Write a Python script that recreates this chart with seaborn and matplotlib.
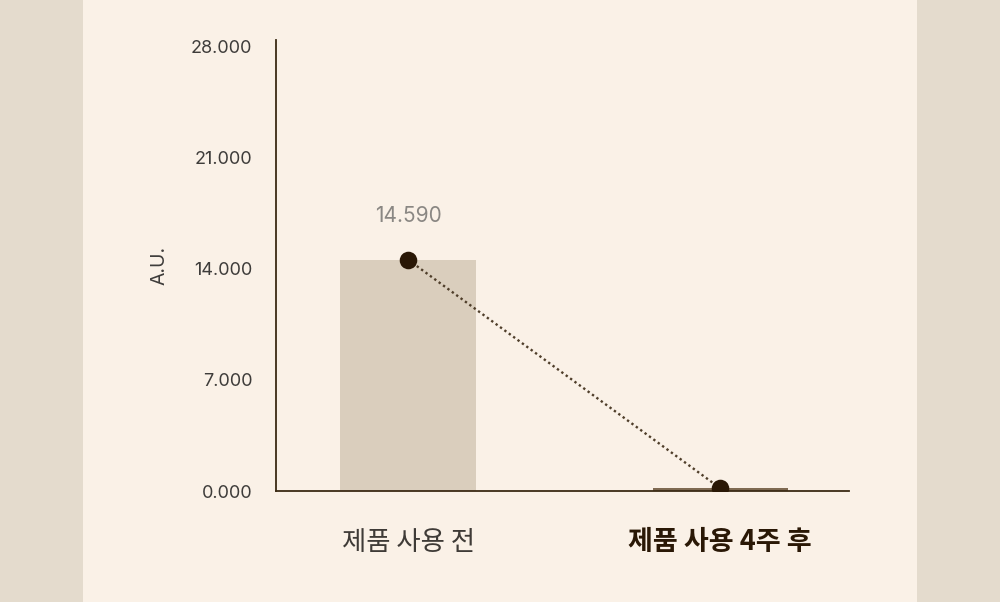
import matplotlib
matplotlib.use("Agg")
import matplotlib.pyplot as plt
import seaborn as sns
import pandas as pd
from matplotlib.patches import Rectangle

categories = ["제품 사용 전", "제품 사용 4주 후"]
values = [14.59, 0.18]
value_labels = ["14.590", ""]
yticks = [0, 7, 14, 21, 28]
ytick_labels = ["0.000", "7.000", "14.000", "21.000", "28.000"]

sns.set_theme(style="white")
plt.rcParams['font.family'] = ['Noto Sans CJK KR', 'DejaVu Sans']
num_font = ['Inter', 'DejaVu Sans']

fig = plt.figure(figsize=(10, 6.02), dpi=100, facecolor="#e4dbcd")
fig.patches.append(Rectangle((0.083, 0), 0.834, 1, transform=fig.transFigure,
                             facecolor="#faf1e7", edgecolor="none", zorder=-5))
ax = fig.add_axes([0.276, 1 - 491/602, 0.573, (491 - 40)/602])
ax.set_facecolor("none")

df = pd.DataFrame({"cat": categories, "val": values})
sns.barplot(data=df, x="cat", y="val", hue="cat", palette=["#dacebd", "#7f6a52"],
            width=0.433, ax=ax, legend=False, saturation=1, linewidth=0)
ax.plot([0, 1], values, linestyle=(0, (1, 1.3)), color="#4f3e2a", lw=1.7, zorder=3)
ax.scatter([0, 1], values, s=160, color="#2a1806", zorder=4, linewidths=0)
for i, (v, t) in enumerate(zip(values, value_labels)):
    if t:
        ax.text(i, v + 2.1, t, ha="center", va="bottom", fontsize=15, color="#8a8783",
                family=num_font)

ax.set_xlim(-0.423, 1.413)
ax.set_ylim(0, 28.44)
ax.set_yticks(yticks)
ax.set_yticklabels(ytick_labels, fontsize=13, color="#3e3c3a", family=num_font)
ax.tick_params(axis="y", length=0, pad=17)
ax.tick_params(axis="x", length=0, pad=27)
ax.set_xticks([0, 1])
ax.set_xticklabels(categories)
labs = ax.get_xticklabels()
labs[0].set_fontsize(19); labs[0].set_color("#3f3b37"); labs[0].set_fontweight("normal")
labs[1].set_fontsize(19.5); labs[1].set_color("#2a1806"); labs[1].set_fontweight("bold")
ax.set_xlabel("")
ax.set_ylabel("A.U.", fontsize=14, color="#3e3c3a", labelpad=16, family=num_font)
for s in ["top", "right"]:
    ax.spines[s].set_visible(False)
for s in ["left", "bottom"]:
    ax.spines[s].set_color("#3b2a14")
    ax.spines[s].set_linewidth(1.3)

fig.savefig("out.png", dpi=100, facecolor=fig.get_facecolor())
